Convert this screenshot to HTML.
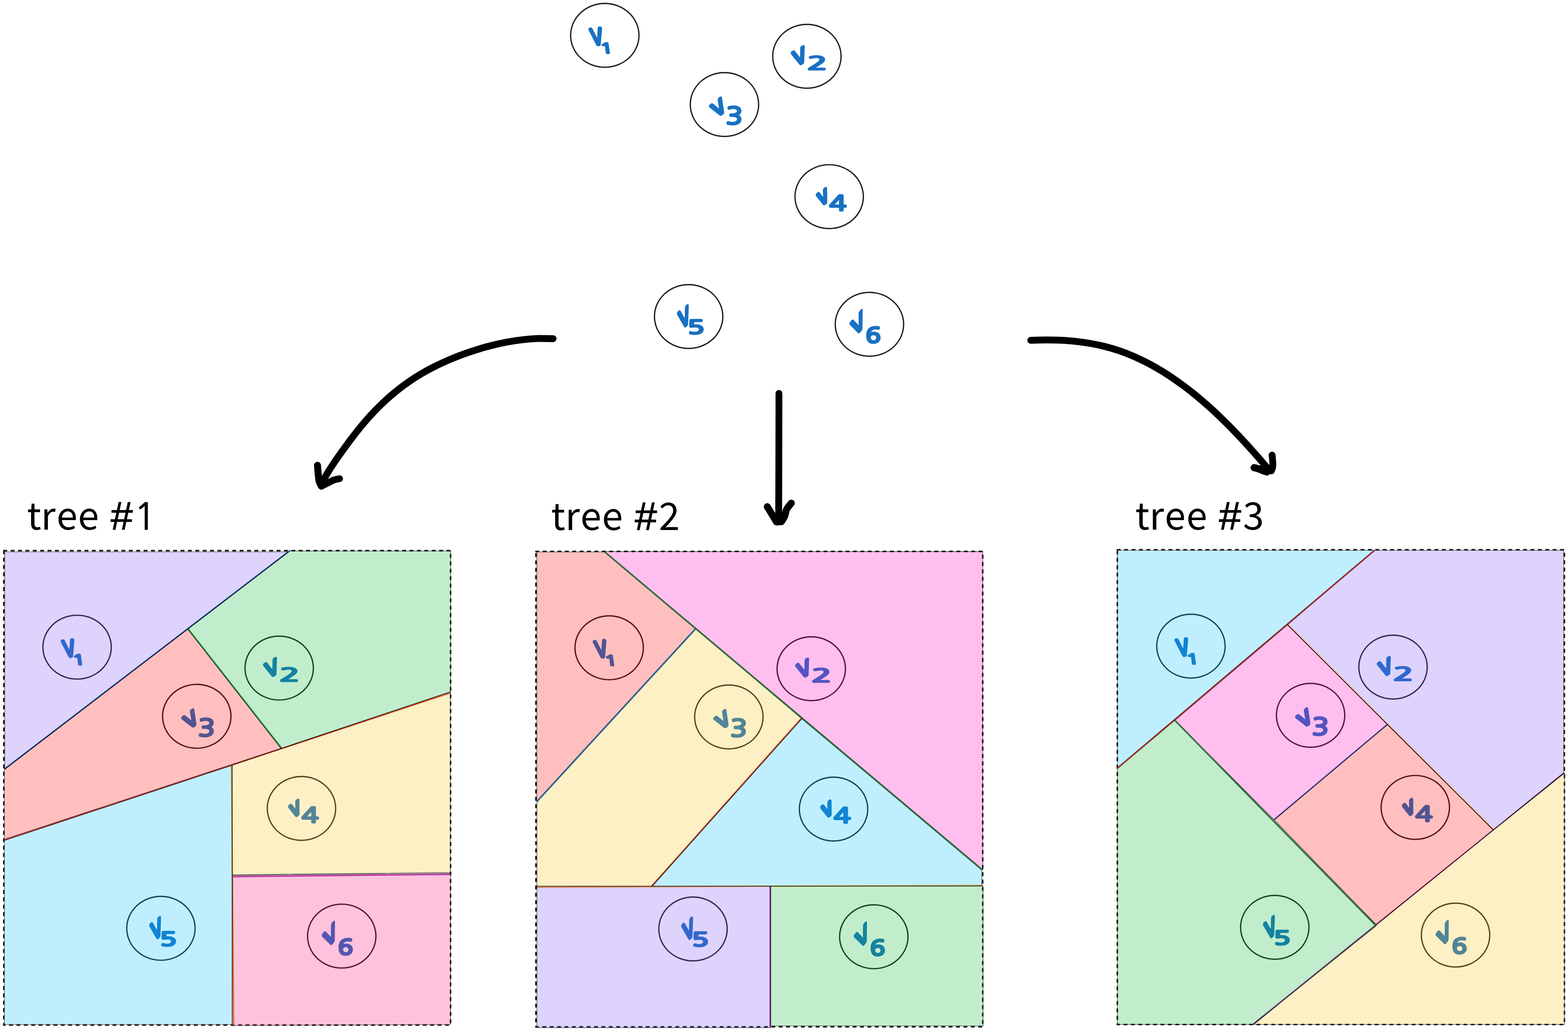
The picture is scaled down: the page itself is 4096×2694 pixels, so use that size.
<!DOCTYPE html>
<html lang="en">
<head>
<meta charset="utf-8">
<title>trees</title>
<style>
html,body{margin:0;padding:0;background:#ffffff;}
body{width:4096px;height:2694px;overflow:hidden;}
svg{display:block;}
.ttl{font-family:"Noto Sans CJK JP","Noto Sans CJK SC","DejaVu Sans","Liberation Sans",sans-serif;font-size:98.5px;fill:#000;}
.tth{font-family:"Liberation Sans","DejaVu Sans",sans-serif;font-size:104px;stroke:#000;stroke-width:1.6;}
.tt1{font-family:"NanumGothic","Liberation Sans",sans-serif;font-size:95px;stroke:#000;stroke-width:1.6;stroke-linejoin:round;}
.hv,.hd{font-family:"NanumGothic","DejaVu Sans Light","Liberation Sans",sans-serif;font-size:60.0px;fill:#1971c2;stroke:#1971c2;stroke-linejoin:round;stroke-linecap:round;}
</style>
</head>
<body>
<svg xmlns="http://www.w3.org/2000/svg" width="4096" height="2694" viewBox="0 0 4096 2694">
<rect x="0" y="0" width="4096" height="2694" fill="#ffffff"/>
<!-- top points -->
<g>
<ellipse cx="1579.9" cy="92.4" rx="89.3" ry="83.4" fill="none" stroke="#1e1e1e" stroke-width="3.4"/>
<text class="hv" stroke-width="6.07" transform="matrix(1.0814 -0.1294 0.2721 1.2941 1547.46 118.57)">v</text>
<text class="hd" stroke-width="7.50" transform="matrix(0.9000 0.0000 0.0808 0.5989 1569.64 138.70)">1</text>
<ellipse cx="2107.8" cy="147.1" rx="89.3" ry="83.4" fill="none" stroke="#1e1e1e" stroke-width="3.4"/>
<text class="hv" stroke-width="6.08" transform="matrix(1.1037 -0.6065 0.3494 1.1061 2078.52 174.40)">v</text>
<text class="hd" stroke-width="6.16" transform="matrix(1.4115 0.0000 0.0000 0.7705 2109.15 181.84)">2</text>
<ellipse cx="1892.5" cy="273.1" rx="89.3" ry="83.4" fill="none" stroke="#1e1e1e" stroke-width="3.4"/>
<text class="hv" stroke-width="6.27" transform="matrix(1.0054 -0.7780 0.5407 0.9553 1871.34 308.78)">v</text>
<text class="hd" stroke-width="5.58" transform="matrix(1.1973 0.0000 0.0000 1.0179 1896.49 324.15)">3</text>
<ellipse cx="2166.0" cy="513.8" rx="89.3" ry="83.4" fill="none" stroke="#1e1e1e" stroke-width="3.4"/>
<text class="hv" stroke-width="8.43" transform="matrix(0.8295 -0.5754 0.3080 0.9292 2143.27 539.24)">v</text>
<text class="hd" stroke-width="6.11" transform="matrix(1.2132 0.0000 0.0000 0.9041 2166.68 550.12)">4</text>
<ellipse cx="1798.9" cy="827.1" rx="89.3" ry="83.4" fill="none" stroke="#1e1e1e" stroke-width="3.4"/>
<text class="hv" stroke-width="6.27" transform="matrix(0.9288 -0.7181 0.2750 1.2738 1778.66 860.47)">v</text>
<text class="hd" stroke-width="6.76" transform="matrix(1.1827 0.0000 0.0000 0.8212 1796.46 872.03)">5</text>
<ellipse cx="2271.2" cy="847.4" rx="89.3" ry="83.4" fill="none" stroke="#1e1e1e" stroke-width="3.4"/>
<text class="hv" stroke-width="5.46" transform="matrix(1.0571 -1.2108 0.3585 1.1227 2231.90 881.91)">v</text>
<text class="hd" stroke-width="6.88" transform="matrix(1.0514 0.0000 0.0000 0.9032 2262.08 895.35)">6</text>
</g>
<!-- arrows -->
<g fill="none" stroke="#000" stroke-linecap="round" stroke-linejoin="round">
<path d="M1444.9 884.9 C1438.3 884.9 1418.5 884.2 1405.4 884.6 C1392.2 885.1 1379.0 886.1 1365.8 887.6 C1352.6 889.1 1339.4 891.1 1326.3 893.5 C1313.2 895.9 1300.1 898.7 1287.1 902.0 C1274.1 905.2 1261.1 908.8 1248.3 912.8 C1235.6 916.7 1222.8 921.0 1210.3 925.5 C1197.8 930.1 1185.3 935.0 1173.1 940.2 C1160.9 945.5 1148.8 951.0 1137.0 956.9 C1125.2 962.9 1113.5 969.1 1102.1 975.8 C1090.8 982.5 1079.6 989.5 1068.7 997.0 C1057.9 1004.5 1047.3 1012.4 1037.0 1020.6 C1026.6 1028.9 1016.6 1037.5 1006.9 1046.5 C997.1 1055.4 987.6 1064.8 978.5 1074.3 C969.3 1083.9 960.4 1093.8 951.8 1103.9 C943.1 1114.0 934.8 1124.4 926.6 1134.9 C918.4 1145.4 910.4 1156.1 902.6 1166.9 C894.7 1177.6 886.8 1188.5 879.3 1199.5 C871.8 1210.4 864.4 1221.5 857.5 1232.7 C850.6 1244.0 841.2 1261.2 837.9 1266.9" stroke-width="18"/>
<path d="M829.3 1215.9 C829.6 1219.4 830.5 1230.2 831.2 1237.0 C831.9 1243.8 832.1 1251.5 833.5 1257.0 C834.9 1262.5 838.5 1268.1 839.5 1270.3" stroke-width="18.3"/>
<path d="M839.5 1270.3 C842.5 1268.8 852.5 1263.9 857.8 1261.3 C863.1 1258.7 866.4 1256.2 871.3 1254.5 C876.1 1252.8 884.3 1251.4 886.9 1250.8" stroke-width="17.8"/>
<path d="M2034.8 1027.8 C2034.8 1048.2 2034.7 1108.0 2034.6 1150.0 C2034.5 1192.0 2034.4 1244.3 2034.3 1280.0 C2034.2 1315.7 2034.0 1350.0 2034.0 1364.0" stroke-width="17.8"/>
<path d="M2004.4 1324.0 C2006.3 1327.2 2012.0 1336.3 2016.0 1343.0 C2020.0 1349.7 2026.4 1360.5 2028.5 1364.0" stroke-width="18.3"/>
<path d="M2067.0 1314.6 C2065.0 1317.3 2057.7 1325.3 2054.9 1330.8 C2052.1 1336.3 2052.4 1342.4 2050.1 1347.8 C2047.8 1353.2 2042.8 1360.7 2041.3 1363.3" stroke-width="18.3"/>
<path d="M2692.6 889.2 C2699.2 889.0 2719.2 888.2 2732.3 888.2 C2745.5 888.2 2758.6 888.5 2771.6 889.1 C2784.7 889.8 2797.6 890.7 2810.5 892.1 C2823.3 893.5 2836.1 895.3 2848.8 897.5 C2861.4 899.7 2874.0 902.3 2886.4 905.5 C2898.8 908.6 2911.1 912.2 2923.3 916.3 C2935.4 920.4 2947.5 925.1 2959.3 930.2 C2971.2 935.3 2982.9 940.9 2994.5 946.8 C3006.0 952.7 3017.4 959.1 3028.6 965.8 C3039.8 972.4 3050.8 979.5 3061.6 986.7 C3072.4 994.0 3083.0 1001.6 3093.4 1009.4 C3103.9 1017.1 3114.1 1025.2 3124.2 1033.4 C3134.2 1041.7 3144.1 1050.1 3153.9 1058.8 C3163.6 1067.4 3173.1 1076.2 3182.6 1085.2 C3192.0 1094.2 3201.3 1103.3 3210.4 1112.5 C3219.6 1121.8 3228.6 1131.2 3237.5 1140.7 C3246.4 1150.1 3255.2 1159.7 3263.9 1169.3 C3272.6 1179.0 3281.2 1188.7 3289.7 1198.4 C3298.1 1208.2 3310.7 1222.9 3314.9 1227.8" stroke-width="18"/>
<path d="M3276.2 1222.0 C3278.1 1222.5 3283.6 1223.6 3287.8 1225.0 C3292.0 1226.4 3297.7 1229.1 3301.3 1230.5 C3304.9 1231.9 3308.1 1232.8 3309.4 1233.2" stroke-width="18.8"/>
<path d="M3323.0 1189.1 C3323.3 1192.1 3324.5 1202.1 3324.7 1207.4 C3324.9 1212.7 3324.9 1217.2 3324.3 1221.0 C3323.7 1224.8 3321.6 1228.9 3321.0 1230.5" stroke-width="17.8"/>
</g>
<text class="ttl" y="1383.8"><tspan x="70.5 107.1 147.8 203.8 255.8">tree </tspan><tspan class="tth" x="289.1">#</tspan><tspan class="tt1" x="350.3">1</tspan></text>
<text class="ttl" y="1384.6"><tspan x="1439.4 1476.4 1516.3 1572.4 1624.4">tree </tspan><tspan class="tth" x="1658.2">#</tspan><tspan x="1721.1">2</tspan></text>
<text class="ttl" y="1383.8"><tspan x="2965.5 3002.4 3042.4 3098.9 3150.9">tree </tspan><tspan class="tth" x="3184.2">#</tspan><tspan x="3246.9">3</tspan></text>
<!-- t1 -->
<g>
<rect x="10" y="1438.9" width="1167" height="1239.6" fill="none" stroke="#1e1e1e" stroke-width="4.2" stroke-dasharray="7.1 12.2" stroke-linecap="round"/>
<ellipse cx="201.4" cy="1691.0" rx="89.3" ry="83.4" fill="none" stroke="#1e1e1e" stroke-width="3.4"/>
<text class="hv" stroke-width="6.07" transform="matrix(1.0814 -0.1294 0.2721 1.2941 168.96 1717.17)">v</text>
<text class="hd" stroke-width="7.50" transform="matrix(0.9000 0.0000 0.0808 0.5989 191.14 1737.30)">1</text>
<ellipse cx="729.3" cy="1745.7" rx="89.3" ry="83.4" fill="none" stroke="#1e1e1e" stroke-width="3.4"/>
<text class="hv" stroke-width="6.08" transform="matrix(1.1037 -0.6065 0.3494 1.1061 700.02 1773.00)">v</text>
<text class="hd" stroke-width="6.16" transform="matrix(1.4115 0.0000 0.0000 0.7705 730.65 1780.44)">2</text>
<ellipse cx="514.0" cy="1871.7" rx="89.3" ry="83.4" fill="none" stroke="#1e1e1e" stroke-width="3.4"/>
<text class="hv" stroke-width="6.27" transform="matrix(1.0054 -0.7780 0.5407 0.9553 492.84 1907.38)">v</text>
<text class="hd" stroke-width="5.58" transform="matrix(1.1973 0.0000 0.0000 1.0179 517.99 1922.75)">3</text>
<ellipse cx="787.5" cy="2112.4" rx="89.3" ry="83.4" fill="none" stroke="#1e1e1e" stroke-width="3.4"/>
<text class="hv" stroke-width="8.43" transform="matrix(0.8295 -0.5754 0.3080 0.9292 764.77 2137.84)">v</text>
<text class="hd" stroke-width="6.11" transform="matrix(1.2132 0.0000 0.0000 0.9041 788.18 2148.72)">4</text>
<ellipse cx="420.4" cy="2425.7" rx="89.3" ry="83.4" fill="none" stroke="#1e1e1e" stroke-width="3.4"/>
<text class="hv" stroke-width="6.27" transform="matrix(0.9288 -0.7181 0.2750 1.2738 400.16 2459.07)">v</text>
<text class="hd" stroke-width="6.76" transform="matrix(1.1827 0.0000 0.0000 0.8212 417.96 2470.63)">5</text>
<ellipse cx="892.7" cy="2446.0" rx="89.3" ry="83.4" fill="none" stroke="#1e1e1e" stroke-width="3.4"/>
<text class="hv" stroke-width="5.46" transform="matrix(1.0571 -1.2108 0.3585 1.1227 853.40 2480.51)">v</text>
<text class="hd" stroke-width="6.88" transform="matrix(1.0514 0.0000 0.0000 0.9032 883.58 2493.95)">6</text>
<line x1="11.0" y1="2009.4" x2="758.0" y2="1437.7" stroke="#1c7ed6" stroke-width="3.2"/>
<line x1="491.9" y1="1643.2" x2="735.5" y2="1954.4" stroke="#2f9e44" stroke-width="3.2"/>
<line x1="11.2" y1="2195.3" x2="1177.7" y2="1810.3" stroke="#e03131" stroke-width="3.2"/>
<line x1="604.6" y1="1999.5" x2="610.6" y2="2682.0" stroke="#f08c00" stroke-width="3.2"/>
<line x1="608.5" y1="2290.8" x2="1177.5" y2="2284.8" stroke="#9c36b5" stroke-width="3.2"/>
<polygon points="12.3,1442 752.6,1442 12.3,2009.5" fill="#7950f2" fill-opacity="0.25" stroke="#000" stroke-opacity="0.9" stroke-width="1.1" stroke-linejoin="round"/>
<polygon points="757.8,1439.8 1177.4,1439.8 1177.4,1807 734,1955.3 490.6,1644.3" fill="#06b837" fill-opacity="0.25" stroke="#000" stroke-opacity="0.9" stroke-width="1.1" stroke-linejoin="round"/>
<polygon points="490.6,1644.3 734,1955.3 11.2,2193.2 11.2,2011.5" fill="#ff0000" fill-opacity="0.25" stroke="#000" stroke-opacity="0.9" stroke-width="1.1" stroke-linejoin="round"/>
<polygon points="607.0,1999.5 1176.2,1808.4 1176.2,2279.8 607.0,2285.8" fill="#fcc419" fill-opacity="0.25" stroke="#000" stroke-opacity="0.9" stroke-width="1.1" stroke-linejoin="round"/>
<polygon points="11.5,2196.3 606.0,1999.9 606.0,2677 11.5,2677" fill="#00bfff" fill-opacity="0.25" stroke="#000" stroke-opacity="0.9" stroke-width="1.1" stroke-linejoin="round"/>
<polygon points="607.3,2287.6 1177,2281.8 1177,2677 607.8,2679.5" fill="#ff0a78" fill-opacity="0.25" stroke="#000" stroke-opacity="0.9" stroke-width="1.1" stroke-linejoin="round"/>

</g>
<!-- t2 -->
<g>
<rect x="1399.9" y="1440.8" width="1167.1999999999998" height="1242.2" fill="none" stroke="#1e1e1e" stroke-width="4.2" stroke-dasharray="7.1 12.2" stroke-linecap="round"/>
<ellipse cx="1591.3" cy="1692.7" rx="89.3" ry="83.4" fill="none" stroke="#1e1e1e" stroke-width="3.4"/>
<text class="hv" stroke-width="6.07" transform="matrix(1.0814 -0.1294 0.2721 1.2941 1558.86 1718.87)">v</text>
<text class="hd" stroke-width="7.50" transform="matrix(0.9000 0.0000 0.0808 0.5989 1581.04 1739.00)">1</text>
<ellipse cx="2119.2" cy="1747.4" rx="89.3" ry="83.4" fill="none" stroke="#1e1e1e" stroke-width="3.4"/>
<text class="hv" stroke-width="6.08" transform="matrix(1.1037 -0.6065 0.3494 1.1061 2089.92 1774.70)">v</text>
<text class="hd" stroke-width="6.16" transform="matrix(1.4115 0.0000 0.0000 0.7705 2120.55 1782.14)">2</text>
<ellipse cx="1903.9" cy="1873.4" rx="89.3" ry="83.4" fill="none" stroke="#1e1e1e" stroke-width="3.4"/>
<text class="hv" stroke-width="6.27" transform="matrix(1.0054 -0.7780 0.5407 0.9553 1882.74 1909.08)">v</text>
<text class="hd" stroke-width="5.58" transform="matrix(1.1973 0.0000 0.0000 1.0179 1907.89 1924.45)">3</text>
<ellipse cx="2177.4" cy="2114.1" rx="89.3" ry="83.4" fill="none" stroke="#1e1e1e" stroke-width="3.4"/>
<text class="hv" stroke-width="8.43" transform="matrix(0.8295 -0.5754 0.3080 0.9292 2154.67 2139.54)">v</text>
<text class="hd" stroke-width="6.11" transform="matrix(1.2132 0.0000 0.0000 0.9041 2178.08 2150.42)">4</text>
<ellipse cx="1810.3" cy="2427.4" rx="89.3" ry="83.4" fill="none" stroke="#1e1e1e" stroke-width="3.4"/>
<text class="hv" stroke-width="6.27" transform="matrix(0.9288 -0.7181 0.2750 1.2738 1790.06 2460.77)">v</text>
<text class="hd" stroke-width="6.76" transform="matrix(1.1827 0.0000 0.0000 0.8212 1807.86 2472.33)">5</text>
<ellipse cx="2282.6" cy="2447.7" rx="89.3" ry="83.4" fill="none" stroke="#1e1e1e" stroke-width="3.4"/>
<text class="hv" stroke-width="5.46" transform="matrix(1.0571 -1.2108 0.3585 1.1227 2243.30 2482.21)">v</text>
<text class="hd" stroke-width="6.88" transform="matrix(1.0514 0.0000 0.0000 0.9032 2273.48 2495.65)">6</text>
<line x1="1702.1" y1="2315.2" x2="2092.7" y2="1877.2" stroke="#e03131" stroke-width="3.2"/>
<line x1="1402.0" y1="2318.2" x2="2568.0" y2="2313.4" stroke="#f08c00" stroke-width="3.2"/>
<line x1="2011.5" y1="2316.0" x2="2011.5" y2="2685.0" stroke="#9c36b5" stroke-width="3.2"/>
<polygon points="1402.3,1442.3 1579,1442.3 1817.1,1642.9 1402.3,2094.7" fill="#ff0000" fill-opacity="0.25" stroke="#000" stroke-opacity="0.9" stroke-width="1.1" stroke-linejoin="round"/>
<polygon points="1580.4,1441.4 2567.3,1441.4 2567.3,2272.3" fill="#ff00bc" fill-opacity="0.25" stroke="#000" stroke-opacity="0.9" stroke-width="1.1" stroke-linejoin="round"/>
<polygon points="1817.3,1643.3 2094.3,1877.8 1703.4,2315.2 1402.6,2315.2 1402.6,2095.3" fill="#fcc419" fill-opacity="0.25" stroke="#000" stroke-opacity="0.9" stroke-width="1.1" stroke-linejoin="round"/>
<polygon points="2094.6,1878.3 2564.9,2272.9 2564.9,2315.2 1704.6,2315.2" fill="#00bfff" fill-opacity="0.25" stroke="#000" stroke-opacity="0.9" stroke-width="1.1" stroke-linejoin="round"/>
<polygon points="1402.6,2315.8 2013.1,2315.8 2013.1,2685.5 1402.6,2685.5" fill="#7950f2" fill-opacity="0.25" stroke="#000" stroke-opacity="0.9" stroke-width="1.1" stroke-linejoin="round"/>
<polygon points="2013.5,2315.8 2568,2315.8 2568,2680.7 2013.5,2680.7" fill="#06b837" fill-opacity="0.25" stroke="#000" stroke-opacity="0.9" stroke-width="1.1" stroke-linejoin="round"/>
<line x1="1579.6" y1="1442.2" x2="2566.0" y2="2273.3" stroke="#000" stroke-width="3.6"/>
<line x1="1579.6" y1="1442.2" x2="2566.0" y2="2273.3" stroke="#2f9e44" stroke-width="2.2"/>
<line x1="1402.2" y1="2094.9" x2="1817.1" y2="1642.9" stroke="#000" stroke-width="3.6"/>
<line x1="1402.2" y1="2094.9" x2="1817.1" y2="1642.9" stroke="#1c7ed6" stroke-width="2.2"/>
</g>
<!-- t3 -->
<g>
<rect x="2918.8" y="1436.5" width="1167.6999999999998" height="1240.5" fill="none" stroke="#1e1e1e" stroke-width="4.2" stroke-dasharray="7.1 12.2" stroke-linecap="round"/>
<ellipse cx="3111.0" cy="1688.4" rx="89.3" ry="83.4" fill="none" stroke="#1e1e1e" stroke-width="3.4"/>
<text class="hv" stroke-width="6.07" transform="matrix(1.0814 -0.1294 0.2721 1.2941 3078.56 1714.57)">v</text>
<text class="hd" stroke-width="7.50" transform="matrix(0.9000 0.0000 0.0808 0.5989 3100.74 1734.70)">1</text>
<ellipse cx="3638.9" cy="1743.1" rx="89.3" ry="83.4" fill="none" stroke="#1e1e1e" stroke-width="3.4"/>
<text class="hv" stroke-width="6.08" transform="matrix(1.1037 -0.6065 0.3494 1.1061 3609.62 1770.40)">v</text>
<text class="hd" stroke-width="6.16" transform="matrix(1.4115 0.0000 0.0000 0.7705 3640.25 1777.84)">2</text>
<ellipse cx="3423.6" cy="1869.1" rx="89.3" ry="83.4" fill="none" stroke="#1e1e1e" stroke-width="3.4"/>
<text class="hv" stroke-width="6.27" transform="matrix(1.0054 -0.7780 0.5407 0.9553 3402.44 1904.78)">v</text>
<text class="hd" stroke-width="5.58" transform="matrix(1.1973 0.0000 0.0000 1.0179 3427.59 1920.15)">3</text>
<ellipse cx="3697.1" cy="2109.8" rx="89.3" ry="83.4" fill="none" stroke="#1e1e1e" stroke-width="3.4"/>
<text class="hv" stroke-width="8.43" transform="matrix(0.8295 -0.5754 0.3080 0.9292 3674.37 2135.24)">v</text>
<text class="hd" stroke-width="6.11" transform="matrix(1.2132 0.0000 0.0000 0.9041 3697.78 2146.12)">4</text>
<ellipse cx="3330.0" cy="2423.1" rx="89.3" ry="83.4" fill="none" stroke="#1e1e1e" stroke-width="3.4"/>
<text class="hv" stroke-width="6.27" transform="matrix(0.9288 -0.7181 0.2750 1.2738 3309.76 2456.47)">v</text>
<text class="hd" stroke-width="6.76" transform="matrix(1.1827 0.0000 0.0000 0.8212 3327.56 2468.03)">5</text>
<ellipse cx="3802.3" cy="2443.4" rx="89.3" ry="83.4" fill="none" stroke="#1e1e1e" stroke-width="3.4"/>
<text class="hv" stroke-width="5.46" transform="matrix(1.0571 -1.2108 0.3585 1.1227 3763.00 2477.91)">v</text>
<text class="hd" stroke-width="6.88" transform="matrix(1.0514 0.0000 0.0000 0.9032 3793.18 2491.35)">6</text>
<line x1="3363.5" y1="1632.5" x2="3901.0" y2="2168.5" stroke="#f08c00" stroke-width="3.2"/>
<line x1="3327.9" y1="2141.7" x2="3623.9" y2="1892.7" stroke="#1c7ed6" stroke-width="3.2"/>
<line x1="3272.9" y1="2676.2" x2="4085.9" y2="2019.3" stroke="#9c36b5" stroke-width="3.2"/>
<polygon points="2919,1438 3591,1438 2919,2007.5" fill="#00bfff" fill-opacity="0.25" stroke="#000" stroke-opacity="0.9" stroke-width="1.1" stroke-linejoin="round"/>
<polygon points="3591,1438 4084.8,1438 4084.8,2019.3 3901,2168.5 3363.5,1632.5" fill="#7950f2" fill-opacity="0.25" stroke="#000" stroke-opacity="0.9" stroke-width="1.1" stroke-linejoin="round"/>
<polygon points="3363.5,1632.5 3624.5,1893.5 3328.5,2142.5 3069,1882.3" fill="#ff00bc" fill-opacity="0.25" stroke="#000" stroke-opacity="0.9" stroke-width="1.1" stroke-linejoin="round"/>
<polygon points="3624.5,1893.5 3901,2168.5 3595,2416 3328.5,2142.5" fill="#ff0000" fill-opacity="0.25" stroke="#000" stroke-opacity="0.9" stroke-width="1.1" stroke-linejoin="round"/>
<polygon points="2919,2008 3069,1882.3 3595,2419.5 3273.5,2677 2919,2677" fill="#06b837" fill-opacity="0.25" stroke="#000" stroke-opacity="0.9" stroke-width="1.1" stroke-linejoin="round"/>
<polygon points="4087,2020.3 4087,2677 3275,2677 3595,2417 3901,2168.5" fill="#fcc419" fill-opacity="0.25" stroke="#000" stroke-opacity="0.9" stroke-width="1.1" stroke-linejoin="round"/>
<line x1="2918.8" y1="2007.3" x2="3590.8" y2="1437.8" stroke="#000" stroke-width="3.6"/>
<line x1="2918.8" y1="2007.3" x2="3590.8" y2="1437.8" stroke="#e03131" stroke-width="2.2"/>
<line x1="3069.0" y1="1882.3" x2="3595.0" y2="2419.5" stroke="#000" stroke-width="3.6"/>
<line x1="3069.0" y1="1882.3" x2="3595.0" y2="2419.5" stroke="#2f9e44" stroke-width="2.2"/>
</g>
</svg>
</body>
</html>
